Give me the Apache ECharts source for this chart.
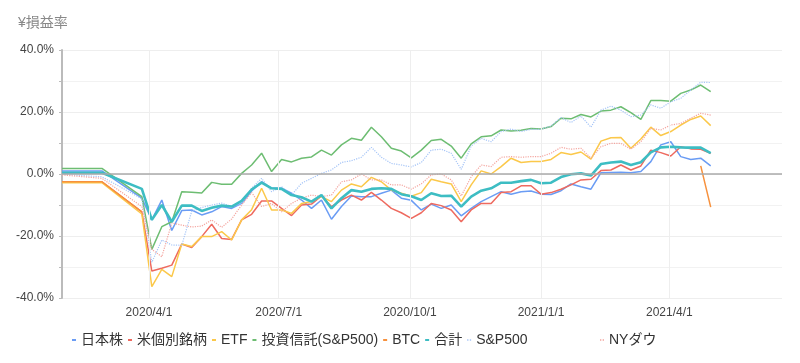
<!DOCTYPE html>
<html>
<head>
<meta charset="utf-8">
<script src="https://cdn.jsdelivr.net/npm/echarts@6/dist/echarts.min.js"></script>
<style>html,body{margin:0;padding:0;background:#fff}#c{width:800px;height:363px}</style>
</head>
<body>
<div id="c"></div>
<script>
const dates = ['2020-01-31','2020-02-28','2020-03-27','2020-04-03','2020-04-10','2020-04-17','2020-04-24','2020-05-01','2020-05-08','2020-05-15',
'2020-05-22','2020-05-29','2020-06-05','2020-06-12','2020-06-19','2020-06-26','2020-07-03','2020-07-10','2020-07-17','2020-07-24',
'2020-07-31','2020-08-07','2020-08-14','2020-08-21','2020-08-28','2020-09-04','2020-09-11','2020-09-18','2020-09-25','2020-10-02',
'2020-10-09','2020-10-16','2020-10-23','2020-10-30','2020-11-06','2020-11-13','2020-11-20','2020-11-27','2020-12-04','2020-12-11',
'2020-12-18','2020-12-25','2021-01-01','2021-01-08','2021-01-15','2021-01-22','2021-01-29','2021-02-05','2021-02-12','2021-02-19',
'2021-02-26','2021-03-05','2021-03-12','2021-03-19','2021-03-26','2021-04-02','2021-04-09','2021-04-16','2021-04-23','2021-04-30'];

const xTickLabels = ['2020/4/1','2020/7/1','2020/10/1','2021/1/1','2021/4/1'];
const yTickValues = [-40, -20, 0, 20, 40];

const seriesNames = ['日本株','米個別銘柄','ETF','投資信託(S&P500)','BTC','合計','S&P500','NYダウ'];

const jp = [1.0,1.0,-7.8,-14.8,-8.4,-18.2,-11.8,-11.6,-13.2,-12.2,
-10.5,-11.1,-9.5,-5.5,-2.5,-4.6,-4.6,-6.2,-8.4,-11.1,
-8.4,-14.6,-10.5,-7.1,-7.3,-7.3,-6.2,-5.2,-7.8,-8.5,
-11.6,-9.7,-11.1,-10.0,-13.5,-11.1,-8.9,-7.3,-5.7,-6.5,
-5.7,-5.5,-6.5,-6.6,-5.4,-3.2,-4.1,-4.9,0.4,0.5,
0.6,0.4,0.8,4.0,9.4,10.4,5.6,4.7,5.1,2.6];

const us = [-2.5,-2.5,-12.2,-31.3,-30.4,-29.4,-22.6,-23.7,-20.2,-16.2,
-20.8,-21.1,-14.8,-13.0,-8.7,-8.7,-11.1,-13.4,-10.0,-9.7,
-7.1,-10.5,-8.4,-6.8,-8.4,-5.9,-8.4,-11.1,-12.5,-14.3,
-12.5,-9.5,-10.2,-11.6,-15.4,-11.6,-9.5,-9.5,-6.0,-5.7,
-3.8,-3.8,-6.5,-6.0,-4.9,-3.5,-1.9,-1.7,1.1,1.3,
2.9,1.3,2.6,7.7,6.9,5.8,8.8,8.1,8.0,6.7];

const etf = [-2.8,-2.8,-12.9,-36.3,-30.8,-33.1,-22.6,-23.4,-20.2,-20.2,
-18.6,-21.3,-14.8,-11.5,-4.6,-11.6,-11.6,-12.7,-9.5,-8.9,
-7.3,-8.9,-5.2,-3.2,-4.1,-1.1,-2.5,-5.2,-6.2,-7.2,
-6.0,-1.7,-2.5,-3.2,-8.9,-3.5,1.0,0.0,2.4,5.1,
3.7,4.0,4.0,4.7,6.9,6.3,7.1,4.8,10.6,11.7,
11.8,8.3,11.3,15.1,12.4,13.7,15.8,17.6,18.7,15.6];

const fund = [1.8,1.8,-7.3,-24.3,-17.0,-15.4,-5.7,-5.9,-6.1,-2.7,
-3.3,-3.3,0.2,2.9,6.7,0.8,4.7,3.9,5.1,5.5,
7.7,6.1,9.4,11.5,10.9,15.1,12.0,8.3,7.4,5.2,
7.7,10.8,11.2,9.0,5.1,9.7,12.0,12.3,14.2,13.9,
14.1,14.7,14.5,15.3,18.0,17.8,19.2,18.4,20.3,20.6,
21.7,19.8,17.6,23.7,23.7,23.5,26.0,27.1,28.7,26.6];

const btc = [-2.5,-2.5,-12.2,null,null,null,null,null,null,null,
null,null,null,null,null,null,null,null,null,null,
null,null,null,null,null,null,null,null,null,null,
null,null,null,null,null,null,null,null,null,null,
null,null,null,null,null,null,null,null,null,null,
null,null,null,null,null,null,null,null,2.6,-10.7];

const total = [0.4,0.4,-4.8,-14.8,-10.0,-15.4,-10.2,-10.2,-11.9,-10.9,
-10.2,-10.5,-8.7,-5.0,-2.8,-4.6,-4.8,-6.8,-7.5,-8.9,
-6.8,-11.1,-7.8,-5.2,-5.7,-4.8,-4.6,-4.8,-6.5,-7.2,
-8.4,-6.2,-7.1,-7.0,-10.5,-7.3,-5.4,-4.6,-2.8,-2.8,
-2.3,-1.9,-3.0,-2.8,-1.0,-0.1,0.2,-0.5,3.2,3.7,
4.0,2.9,3.8,7.0,8.6,8.8,8.6,8.5,8.5,6.7];

const sp500 = [-0.1,-0.9,-8.0,-28.5,-21.3,-22.9,-23.0,-12.0,-10.8,-10.0,
-9.4,-10.5,-9.5,-4.6,-1.4,-5.7,-4.1,-6.8,-3.0,-1.4,
0.2,1.3,3.7,4.3,5.4,8.6,5.4,3.4,2.9,2.3,
3.7,7.7,8.0,6.7,1.5,9.0,11.5,10.4,13.7,14.5,
13.7,14.4,14.4,15.5,18.2,16.6,18.7,15.1,20.6,21.9,
20.6,18.5,19.0,22.3,21.2,23.3,24.4,27.1,29.6,29.5];

const nydow = [-0.3,-1.4,-10.5,-24.3,-26.7,-15.8,-16.5,-17.1,-16.8,-14.8,
-17.2,-14.5,-10.0,-6.0,-10.5,-9.5,-12.2,-9.5,-7.8,-6.8,
-7.3,-6.8,-2.5,-1.9,0.0,-1.9,-1.9,-3.5,-3.5,-4.9,
-3.2,-0.3,0.0,-1.9,-7.1,-0.9,2.9,2.4,5.4,5.6,
5.4,5.6,5.6,6.7,8.6,8.0,8.3,5.1,8.8,9.9,
9.9,8.0,10.4,14.7,14.2,15.8,16.3,18.0,19.6,19.0];

const values = [jp, us, etf, fund, btc, total, sp500, nydow];
const colors = ['#6a9cf4','#ee6a5f','#fbc84a','#6dbd72','#f7913d','#3dbdc3','#a6c5f7','#f4a59f'];
const widths = [1.5,1.5,1.5,1.5,1.5,2.6,1.2,1.2];
const types = ['solid','solid','solid','solid','solid','solid','dotted','dotted'];

const FONT = '"Liberation Sans", "Noto Sans CJK JP", sans-serif';

function parseLocal(s) {
  const p = s.split(/[-\/]/).map(Number);
  return new Date(p[0], p[1] - 1, p[2]).getTime();
}
const xTickValues = xTickLabels.map(parseLocal);
function fmtDate(v) {
  const d = new Date(v);
  return d.getFullYear() + '/' + (d.getMonth() + 1) + '/' + d.getDate();
}

const chart = echarts.init(document.getElementById('c'));

const series = seriesNames.map((n, i) => ({
  name: n,
  type: 'line',
  data: dates.map((d, k) => [parseLocal(d), values[i][k]]),
  showSymbol: false,
  symbol: 'none',
  connectNulls: false,
  color: colors[i],
  lineStyle: { width: widths[i], type: types[i], color: colors[i] },
  animation: false,
  z: i === 5 ? 3 : 2
}));

// helper series carrying the vertical grid lines and the zero line
series.unshift({
  name: '_grid', type: 'line', data: [], z: 1, animation: false, silent: true,
  markLine: {
    silent: true, symbol: 'none', label: { show: false }, animation: false,
    lineStyle: { color: '#eeeeee', width: 1, type: 'solid' },
    data: xTickValues.map(t => ({ xAxis: t }))
      .concat([{ yAxis: 0, lineStyle: { color: '#aaaaaa', width: 1.5, type: 'solid' } }])
  }
});

const legendItem = (n, i) => ({
  name: n,
  icon: types[i] === 'dotted' ? 'path://M0,0h2v2h-2zM4,0h2v2h-2z' : 'rect'
});
const legendCommon = { top: 328, itemWidth: 4, itemHeight: 2, itemGap: 5,
  textStyle: { fontSize: 14, color: '#333', fontFamily: FONT } };

chart.setOption({
  animation: false,
  textStyle: { fontFamily: FONT },
  title: { text: '¥損益率', left: 13, top: 11, textStyle: { fontSize: 14, fontWeight: 'normal', color: '#888', fontFamily: FONT } },
  grid: { left: 62, right: 18, top: 50, bottom: 65, containLabel: false },
  legend: [
    Object.assign({ data: seriesNames.slice(0, 7).map(legendItem), left: 67 }, legendCommon),
    Object.assign({ data: [legendItem('NYダウ', 7)], left: 595 }, legendCommon)
  ],
  xAxis: {
    type: 'value',
    min: parseLocal('2020-01-31'),
    max: parseLocal('2021-06-19'),
    axisLine: { show: false },
    axisTick: { show: false, customValues: xTickValues },
    splitLine: { show: false },
    axisLabel: { customValues: xTickValues, formatter: fmtDate, fontSize: 12, color: '#444', margin: 9, fontFamily: FONT,
      showMinLabel: true, showMaxLabel: true }
  },
  yAxis: {
    type: 'value',
    min: yTickValues[0], max: yTickValues[yTickValues.length - 1], interval: 20,
    axisLine: { show: true, lineStyle: { color: '#bbbbbb', width: 2 } },
    axisTick: { show: true, length: 3, lineStyle: { color: '#bbbbbb' } },
    minorTick: { show: true, splitNumber: 2, length: 3, lineStyle: { color: '#bbbbbb' } },
    splitLine: { show: true, lineStyle: { color: '#eeeeee' } },
    minorSplitLine: { show: true, lineStyle: { color: '#f2f2f2' } },
    axisLabel: { formatter: v => v.toFixed(1) + '%', fontSize: 12, color: '#444', margin: 8, fontFamily: FONT }
  },
  series: series
});
</script>
</body>
</html>
